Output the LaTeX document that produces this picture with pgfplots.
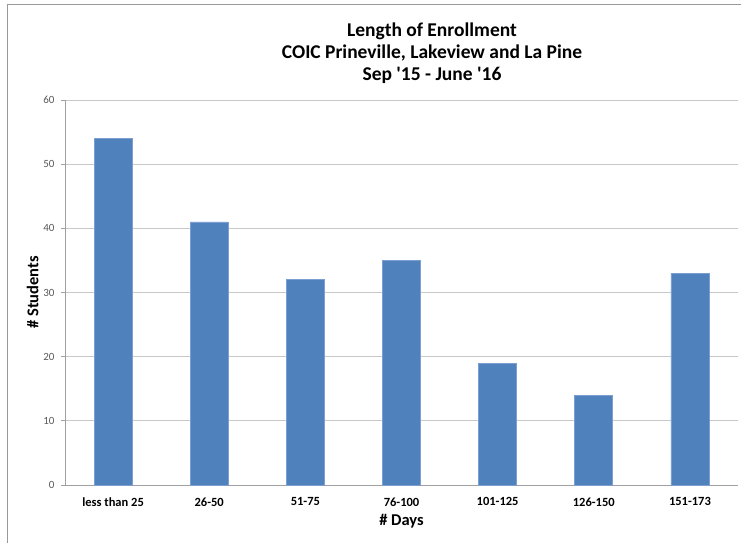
\documentclass[border=0pt]{standalone}
\usepackage{fontspec}
\setmainfont{Carlito}[Ligatures=TeXOff]
\usepackage{pgfplots}
\pgfplotsset{compat=1.18}
\definecolor{barblue}{HTML}{4F81BD}
\definecolor{baredge}{HTML}{7A9FD0}
\definecolor{gridgray}{HTML}{C8C8C8}
\definecolor{tickgray}{HTML}{595959}
\begin{document}
\begin{tikzpicture}[x=1pt,y=1pt]
\useasboundingbox (0,0) rectangle (741,542);
\begin{scope}
\clip (0,0) rectangle (741,542);
\draw[gray!80, line width=1pt] (7,-10) rectangle (760,537);
\end{scope}
\node[font=\fontsize{19.5}{22}\selectfont\bfseries, align=center, anchor=center] at (432,489)
  {Length of Enrollment\\COIC Prineville, Lakeview and La Pine\\Sep '15 - June '16};
\begin{axis}[
  at={(65pt,57pt)}, anchor=south west,
  scale only axis, width=673pt, height=385pt,
  xmin=-0.5, xmax=6.5, ymin=0, ymax=60,
  ytick={0,10,...,60},
  xtick={0,...,6},
  xticklabels={less than 25,26-50,51-75,76-100,101-125,126-150,151-173},
  axis x line=bottom, axis y line=left,
  x axis line style={-, gridgray!80!black, line width=0.8pt},
  y axis line style={-, gridgray!80!black, line width=0.8pt},
  major tick length=4pt,
  xtick style={draw=none},
  ytick style={gridgray!80!black, line width=0.8pt},
  tick align=outside,
  ymajorgrids, grid style={gridgray, line width=0.8pt},
  yticklabel style={font=\fontsize{11}{12}\selectfont, text=tickgray, xshift=-3pt},
  xticklabel style={font=\fontsize{12.5}{14}\selectfont\bfseries, yshift=-5pt},
  /pgf/number format/assume math mode=true,
  xlabel={\# Days}, ylabel={\# Students},
  xlabel style={font=\fontsize{16.5}{18}\selectfont\bfseries, yshift=-1pt},
  ylabel style={font=\fontsize{16.5}{18}\selectfont\bfseries, yshift=-2pt},
  ybar, bar width=38pt,
  clip=false,
]
\addplot[fill=barblue, draw=baredge, line width=0.8pt] coordinates {
(0,54) (1,41) (2,32) (3,35) (4,19) (5,14) (6,33)};
\end{axis}
\end{tikzpicture}
\end{document}
